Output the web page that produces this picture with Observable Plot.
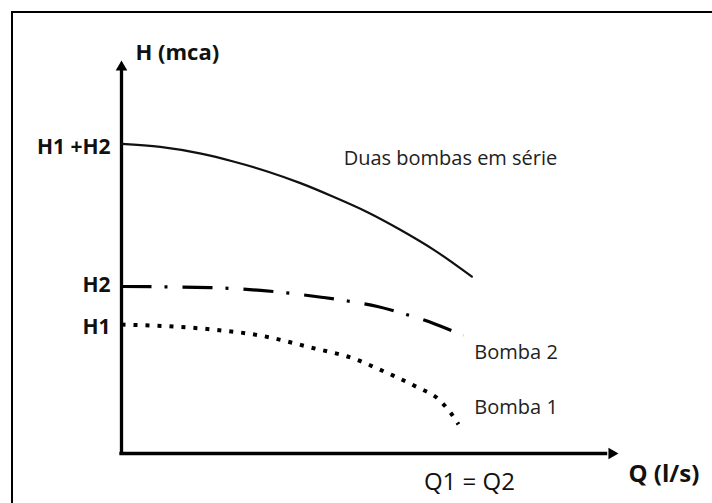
<!DOCTYPE html>
<html><head><meta charset="utf-8">
<script src="https://cdn.jsdelivr.net/npm/d3@7"></script>
<script src="https://cdn.jsdelivr.net/npm/@observablehq/plot@0.6"></script>
<style>
body{margin:0;background:#fff;}
#wrap{position:relative;width:712px;height:503px;overflow:hidden;}
#border{position:absolute;left:10.5px;top:11px;right:-10px;bottom:-10px;border-left:2px solid #000;border-top:2.5px solid #000;}
#wrap svg{position:absolute;left:0;top:0;}
</style></head><body><div id="wrap"><div id="border"></div></div>
<script>
// Curve "Duas bombas em série"
const serieQ = [0, 0.78, 1.6, 2.25, 2.95, 3.6, 4.25, 4.95, 5.6, 6.3, 7.05];
const serieH = [7.88, 7.80, 7.63, 7.43, 7.17, 6.88, 6.54, 6.14, 5.70, 5.17, 4.50];
// Curve "Bomba 2"
const bomba2Q = [0, 1.79, 2.8, 4.06, 4.55, 5.15, 5.67, 6.28, 6.88];
const bomba2H = [4.25, 4.22, 4.15, 3.97, 3.88, 3.74, 3.56, 3.31, 3.0];
// Curve "Bomba 1"
const bomba1Q = [0, 1.79, 2.8, 3.8, 4.77, 5.01, 5.47, 5.96, 6.36, 6.62, 6.78];
const bomba1H = [3.28, 3.16, 3.0, 2.7, 2.37, 2.24, 1.98, 1.68, 1.4, 1.04, 0.74];
// Tick labels
const yTickValues = [3.22, 4.27, 7.79];
const yTickLabels = ["H1", "H2", "H1 +H2"];
const xTickValues = [7];
const xTickLabels = ["Q1 = Q2"];
// Curve labels
const curveLabels = ["Duas bombas em série", "Bomba 2", "Bomba 1"];
const curveLabelQ = [4.47, 7.1, 7.1];
const curveLabelH = [7.51, 2.57, 1.16];
// Axis titles
const yTitle = "H (mca)";
const xTitle = "Q (l/s)";
const qMax = 10, hMax = 10;

const toRows = (qs, hs) => qs.map((q, i) => ({Q: q, H: hs[i]}));
const yLab = new Map(yTickValues.map((v, i) => [v, yTickLabels[i]]));
const xLab = new Map(xTickValues.map((v, i) => [v, xTickLabels[i]]));
const labels = curveLabels.map((t, i) => ({t, Q: curveLabelQ[i], H: curveLabelH[i]}));

const chart = Plot.plot({
  width: 712, height: 503,
  marginLeft: 121, marginRight: 94, marginTop: 60, marginBottom: 50,
  x: {domain: [0, qMax]},
  y: {domain: [0, hMax]},
  style: {fontFamily: "'Open Sans', sans-serif", background: "transparent", color: "#111"},
  marks: [
    Plot.axisX({ticks: xTickValues, tickFormat: d => xLab.get(d), tickSize: 0, tickPadding: 19, fontSize: 24, label: null, fill: "#111"}),
    Plot.axisY({ticks: yTickValues, tickFormat: d => yLab.get(d), tickSize: 0, tickPadding: 11, fontSize: 21, fontWeight: "bold", label: null, fill: "#111"}),
    Plot.ruleX([0], {y1: 0, y2: hMax * 0.975, stroke: "#000", strokeWidth: 3.3, strokeLinecap: "square"}),
    Plot.ruleY([0], {x1: 0, x2: qMax * 0.975, stroke: "#000", strokeWidth: 3.3, strokeLinecap: "square"}),
    Plot.dot([{Q: 0, H: hMax}], {x: "Q", y: "H", symbol: "triangle", r: 4.3, fill: "#000", stroke: null, dy: 6.7}),
    Plot.dot([{Q: qMax, H: 0}], {x: "Q", y: "H", symbol: "triangle", r: 4.3, fill: "#000", stroke: null, rotate: 90, dx: -6.7}),
    Plot.line(toRows(serieQ, serieH), {x: "Q", y: "H", curve: "monotone-x", stroke: "#111", strokeWidth: 2.2}),
    Plot.line(toRows(bomba2Q, bomba2H), {x: "Q", y: "H", curve: "monotone-x", stroke: "#000", strokeWidth: 3.2, strokeDasharray: "30,13,3,15", strokeLinecap: "butt"}),
    Plot.line(toRows(bomba1Q, bomba1H), {x: "Q", y: "H", curve: "monotone-x", stroke: "#000", strokeWidth: 4, strokeDasharray: "4,8", strokeLinecap: "butt"}),
    Plot.text(labels, {x: "Q", y: "H", text: "t", textAnchor: "start", fontSize: 20, fill: "#222"}),
    Plot.text([{Q: 0, H: hMax, t: yTitle}], {x: "Q", y: "H", text: "t", textAnchor: "start", dx: 14, dy: -7.5, fontSize: 22, fontWeight: "bold", fill: "#111"}),
    Plot.text([{Q: qMax, H: 0, t: xTitle}], {x: "Q", y: "H", text: "t", textAnchor: "start", dx: 10, dy: 20.5, fontSize: 24, fontWeight: "bold", fill: "#111"})
  ]
});
document.getElementById("wrap").appendChild(chart);
</script>
</body></html>
